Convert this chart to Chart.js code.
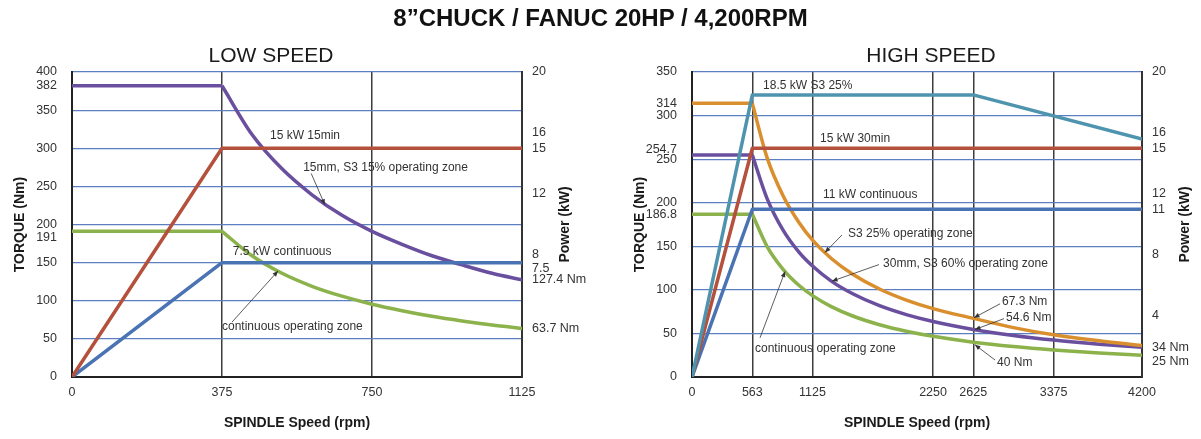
<!DOCTYPE html>
<html>
<head>
<meta charset="utf-8">
<script src="https://cdn.jsdelivr.net/npm/chart.js@4.4.0/dist/chart.umd.min.js"></script>
<style>
  body { margin: 0; background: #fff; }
  #wrap { position: relative; width: 1201px; height: 439px; font-family: "Liberation Sans", Arial, sans-serif; color: #1a1a1a; }
  #title { position: absolute; top: 3px; left: 0; width: 1201px; text-align: center; font-weight: bold; font-size: 24px; line-height: 30px; color: #111; }
  .sub { position: absolute; top: 43px; width: 300px; text-align: center; font-size: 21px; }
  canvas { position: absolute; top: 0; }
</style>
</head>
<body>
<div id="wrap">
  <canvas id="low" width="600" height="439" style="left:0"></canvas>
  <canvas id="high" width="601" height="439" style="left:600px"></canvas>
  <div id="title">8”CHUCK / FANUC 20HP / 4,200RPM</div>
  <div class="sub" style="left:121px">LOW SPEED</div>
  <div class="sub" style="left:781px">HIGH SPEED</div>
</div>
<script>
// ---- low speed ----
const lowRpmTicks = [0, 375, 750, 1125];
const lowTorqueTicks = [0, 50, 100, 150, 191, 200, 250, 300, 350, 382, 400];
const lowPowerTicks = [7.5, 8, 12, 15, 16, 20];
const lowEndTorque = [127.4, 63.7];

const lowRampRpm = [0, 375, 1125];
const low15kW = [0, 15, 15];
const low7kW = [0, 7.5, 7.5];

const lowFlatRpm = [0, 375];
const lowS3Flat = [382, 382];
const lowContFlat = [191, 191];

const lowCurveRpm = [375, 450, 525, 600, 675, 750, 825, 900, 975, 1050, 1125];
const lowS3Torque = [382, 318, 273, 239, 212, 191, 174, 159, 147, 136, 127.4];
const lowContTorque = [191, 159, 136, 119, 106, 95.5, 87, 79.6, 73.5, 68.2, 63.7];

// ---- high speed ----
const highRpmTicks = [0, 563, 1125, 2250, 2625, 3375, 4200];
const highTorqueTicks = [0, 50, 100, 150, 186.8, 200, 250, 254.7, 300, 314, 350];
const highPowerTicks = [4, 8, 11, 12, 15, 16, 20];
const highEndTorque = [34, 25];

const highS3Rpm = [0, 563, 2625, 4200];
const highS3kW = [0, 18.5, 18.5, 15.6];
const highRampRpm = [0, 563, 4200];
const high30minkW = [0, 15, 15];
const highContkW = [0, 11, 11];

const highFlatRpm = [0, 563];
const highS3Flat = [314, 314];
const highS60Flat = [254.7, 254.7];
const highContFlat = [186.8, 186.8];

const highCurveRpm = [563, 700, 850, 1000, 1125, 1300, 1500, 1750, 2000, 2250, 2625, 3000, 3375, 3800, 4200];
const highS3Torque = [314, 252, 208, 177, 157, 136, 118, 101, 88.3, 78.5, 67.3, 56.7, 48.4, 41.5, 36];
const highS60Torque = [254.7, 205, 168.5, 143, 127.3, 110, 95.5, 81.8, 71.6, 63.7, 54.6, 47.7, 42.4, 37.7, 34];
const highContTorque = [186.8, 150, 123.6, 105, 93.4, 80.8, 70, 60, 52.5, 46.7, 40, 35, 31.1, 27.6, 25];

const PURPLE = '#6a4f9e', RED = '#b4503b', GREEN = '#8cb24b', BLUE = '#4a73b3', TEAL = '#4f94ae', ORANGE = '#d98f2d';
const FONT = '"Liberation Sans", Arial, sans-serif';
Chart.defaults.font.family = FONT;
Chart.defaults.color = '#2a2a2a';

function line(xs, ys, color, axis, curved) {
  return {
    data: xs.map((x, i) => ({ x: x, y: ys[i] })),
    borderColor: color, borderWidth: 3.5, pointRadius: 0, yAxisID: axis,
    cubicInterpolationMode: curved ? 'monotone' : 'default', tension: 0,
    borderJoinStyle: 'round'
  };
}

// tick label, with small up/down shifts where two labels would collide
function tickText(text, shift) {
  if (shift === 'down') return ['', text];
  if (shift === 'up') return [text, ''];
  return text;
}

const notesPlugin = {
  id: 'notes',
  afterDatasetsDraw(chart, args, opts) {
    const { ctx } = chart;
    const xs = chart.scales.x, ys = chart.scales.y;
    ctx.save();
    ctx.fillStyle = '#333';
    ctx.strokeStyle = '#333';
    ctx.font = '12px ' + FONT;
    ctx.textBaseline = 'middle';
    ctx.textAlign = 'left';
    (opts.texts || []).forEach(t => {
      ctx.fillText(t[0], xs.getPixelForValue(t[1]), ys.getPixelForValue(t[2]));
    });
    ctx.lineWidth = 0.8;
    (opts.arrows || []).forEach(a => {
      const x1 = xs.getPixelForValue(a[0]), y1 = ys.getPixelForValue(a[1]);
      const x2 = xs.getPixelForValue(a[2]), y2 = ys.getPixelForValue(a[3]);
      ctx.beginPath(); ctx.moveTo(x1, y1); ctx.lineTo(x2, y2); ctx.stroke();
      const ang = Math.atan2(y2 - y1, x2 - x1);
      ctx.beginPath();
      ctx.moveTo(x2, y2);
      ctx.lineTo(x2 - 6 * Math.cos(ang - 0.4), y2 - 6 * Math.sin(ang - 0.4));
      ctx.lineTo(x2 - 6 * Math.cos(ang + 0.4), y2 - 6 * Math.sin(ang + 0.4));
      ctx.closePath(); ctx.fill();
    });
    // right axis title, reading bottom to top
    const ca = chart.chartArea;
    ctx.translate(opts.powerTitleX, (ca.top + ca.bottom) / 2);
    ctx.rotate(-Math.PI / 2);
    ctx.font = 'bold 14px ' + FONT;
    ctx.fillStyle = '#1a1a1a';
    ctx.textAlign = 'center';
    ctx.fillText('Power (kW)', 0, 0);
    ctx.restore();
  }
};

function panel(id, cfg) {
  const torqueMax = cfg.torqueTicks[cfg.torqueTicks.length - 1];
  const powerItems = cfg.powerTicks.map(v => ({ value: v, text: tickText(String(v), cfg.powerShift[v]) }))
    .concat(cfg.endTorque.map(nm => ({ value: nm * 20 / torqueMax, text: tickText(nm + ' Nm', cfg.powerShift[nm + ' Nm']) })));
  const tickFont = { size: 12.5, lineHeight: 0.95 };
  return new Chart(document.getElementById(id), {
    type: 'line',
    data: { datasets: cfg.datasets },
    options: {
      responsive: false,
      animation: false,
      layout: { padding: { top: 72 } },
      plugins: { legend: { display: false }, tooltip: { enabled: false }, notes: cfg.notes },
      scales: {
        x: {
          type: 'linear', min: 0, max: cfg.rpmTicks[cfg.rpmTicks.length - 1],
          afterBuildTicks: s => { s.ticks = cfg.rpmTicks.map(v => ({ value: v })); },
          ticks: { autoSkip: false, maxRotation: 0, padding: 10, color: '#333', font: tickFont, callback: v => String(v) },
          grid: { color: '#3c3c3c', lineWidth: 1.5, drawTicks: false },
          border: { color: '#222', width: 2 },
          title: { display: true, text: 'SPINDLE Speed (rpm)', color: '#1a1a1a', font: { size: 14, weight: 'bold' }, padding: { top: 0, bottom: 7 } },
          afterFit: s => { s.height = 62; }
        },
        y: {
          type: 'linear', position: 'left', min: 0, max: torqueMax,
          afterBuildTicks: s => { s.ticks = cfg.torqueTicks.map(v => ({ value: v })); },
          ticks: { autoSkip: false, padding: 15, color: '#333', font: tickFont,
                   callback: v => tickText(String(v), cfg.torqueShift[v]) },
          grid: { color: c => (c.tick && c.tick.value % 50 === 0) ? '#5b7fc1' : 'rgba(0,0,0,0)', lineWidth: 1.2, drawTicks: false },
          border: { color: '#222', width: 2 },
          title: { display: true, text: 'TORQUE (Nm)', color: '#1a1a1a', font: { size: 14, weight: 'bold' }, padding: { top: cfg.torqueTitlePad, bottom: 0 } },
          afterFit: s => { s.width = cfg.leftW; }
        },
        power: {
          type: 'linear', position: 'right', min: 0, max: 20,
          afterBuildTicks: s => { s.ticks = powerItems.map(p => ({ value: p.value })); },
          ticks: { autoSkip: false, padding: 10, color: '#333', font: tickFont,
                   callback: (v, i) => powerItems[i] ? powerItems[i].text : '' },
          grid: { display: false, drawTicks: false },
          border: { color: '#333', width: 2 },
          afterFit: s => { s.width = cfg.rightW; }
        }
      }
    },
    plugins: [notesPlugin]
  });
}

panel('low', {
  rpmTicks: lowRpmTicks, torqueTicks: lowTorqueTicks, powerTicks: lowPowerTicks, endTorque: lowEndTorque,
  torqueShift: { 191: 'down' }, powerShift: { 7.5: 'down' },
  leftW: 72, rightW: 78, torqueTitlePad: 12,
  datasets: [
    line(lowRampRpm, low15kW, RED, 'power'),
    line(lowRampRpm, low7kW, BLUE, 'power'),
    line(lowFlatRpm, lowContFlat, GREEN, 'y'),
    line(lowCurveRpm, lowContTorque, GREEN, 'y', true),
    line(lowFlatRpm, lowS3Flat, PURPLE, 'y'),
    line(lowCurveRpm, lowS3Torque, PURPLE, 'y', true)
  ],
  notes: {
    powerTitleX: 565,
    texts: [
      ['15 kW 15min', 495, 317],
      ['15mm, S3 15% operating zone', 578, 274],
      ['7.5 kW continuous', 402, 165],
      ['continuous operating zone', 375, 65.6]
    ],
    arrows: [
      [598, 267, 632, 226],
      [400, 72, 515, 139]
    ]
  }
});

panel('high', {
  rpmTicks: highRpmTicks, torqueTicks: highTorqueTicks, powerTicks: highPowerTicks, endTorque: highEndTorque,
  torqueShift: { 254.7: 'up' }, powerShift: { '25 Nm': 'down' },
  leftW: 92, rightW: 59, torqueTitlePad: 32,
  datasets: [
    line(highS3Rpm, highS3kW, TEAL, 'power'),
    line(highRampRpm, high30minkW, RED, 'power'),
    line(highRampRpm, highContkW, BLUE, 'power'),
    line(highFlatRpm, highS3Flat, ORANGE, 'y'),
    line(highCurveRpm, highS3Torque, ORANGE, 'y', true),
    line(highFlatRpm, highS60Flat, PURPLE, 'y'),
    line(highCurveRpm, highS60Torque, PURPLE, 'y', true),
    line(highFlatRpm, highContFlat, GREEN, 'y'),
    line(highCurveRpm, highContTorque, GREEN, 'y', true)
  ],
  notes: {
    powerTitleX: 585,
    texts: [
      ['18.5 kW S3 25%', 663, 334],
      ['15 kW 30min', 1195, 274],
      ['11 kW continuous', 1223, 209],
      ['S3 25% operating zone', 1456, 165],
      ['30mm, S3 60% operating zone', 1783, 130],
      ['continuous operating zone', 588, 33],
      ['67.3 Nm', 2893, 86],
      ['54.6 Nm', 2931, 68],
      ['40 Nm', 2847, 16]
    ],
    arrows: [
      [1400, 163, 1241, 143],
      [1745, 129, 1307, 110],
      [635, 45, 868, 121],
      [2875, 84, 2632, 68],
      [2912, 67, 2641, 54.5],
      [2828, 19.5, 2641, 37]
    ]
  }
});
</script>
</body>
</html>
